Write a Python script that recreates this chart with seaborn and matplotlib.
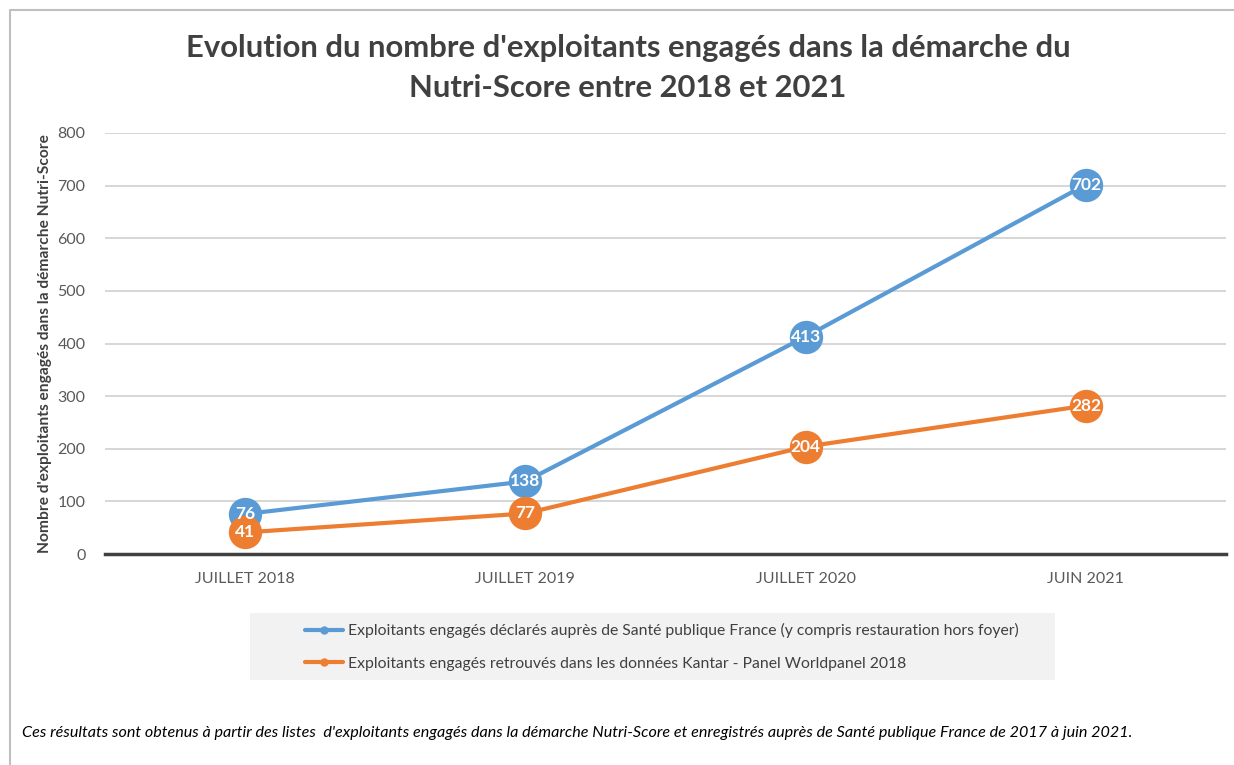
import seaborn as sns
import matplotlib.pyplot as plt
import matplotlib.patches as mpatches
from matplotlib.lines import Line2D
import pandas as pd

# Données
periodes = ["JUILLET 2018", "JUILLET 2019", "JUILLET 2020", "JUIN 2021"]
declares_spf = [76, 138, 413, 702]
kantar = [41, 77, 204, 282]
serie_spf = "Exploitants engagés déclarés auprès de Santé publique France (y compris restauration hors foyer)"
serie_kantar = "Exploitants engagés retrouvés dans les données Kantar - Panel Worldpanel 2018"
y_ticks = [0, 100, 200, 300, 400, 500, 600, 700, 800]

bleu = "#5b9bd5"
orange = "#ed7d31"

df = pd.DataFrame({
    "periode": periodes * 2,
    "valeur": declares_spf + kantar,
    "serie": [serie_spf] * 4 + [serie_kantar] * 4,
})

sns.set_style("white")
plt.rcParams['font.family'] = ['Lato', 'DejaVu Sans']

fig = plt.figure(figsize=(12.34, 7.65), dpi=100)
W, H = 1234, 765
ax = fig.add_axes([105 / W, 1 - 554 / H, (1226 - 105) / W, (554 - 133) / H])

sns.lineplot(data=df, x="periode", y="valeur", hue="serie",
             palette=[bleu, orange], hue_order=[serie_spf, serie_kantar],
             sort=False, linewidth=3, marker="o", markersize=24,
             markeredgewidth=0, legend=False, ax=ax)

# Etiquettes de valeur dans les cercles
for serie, vals in [(serie_spf, declares_spf), (serie_kantar, kantar)]:
    for i, v in enumerate(vals):
        ax.text(i, v, str(v), ha="center", va="center", color="white",
                fontsize=12.5, fontweight="bold")

ax.set_xlim(-0.5, 3.5)
ax.set_ylim(0, 800)
ax.set_yticks(y_ticks)
ax.set_xlabel("")
ax.set_ylabel("Nombre d'exploitants engagés dans la démarche Nutri-Score",
              fontsize=11.2, fontweight="bold", color="#404040", labelpad=4)
ax.grid(axis="y", color="#d0d0d0", linewidth=1.2)
ax.set_axisbelow(True)
for s in ["top", "right", "left"]:
    ax.spines[s].set_visible(False)
ax.spines["bottom"].set_color("#404040")
ax.spines["bottom"].set_linewidth(2.5)
ax.tick_params(axis="both", length=0, labelsize=11.5, labelcolor="#595959")
ax.tick_params(axis="x", pad=13)
ax.tick_params(axis="y", pad=14)

fig.text(0.509, 1 - 48 / H,
         "Evolution du nombre d'exploitants engagés dans la démarche du",
         ha="center", va="center", fontsize=22.3, fontweight="bold", color="#404040")
fig.text(0.509, 1 - 88 / H, "Nutri-Score entre 2018 et 2021",
         ha="center", va="center", fontsize=22.3, fontweight="bold", color="#404040")

# Légende sur fond gris
fig.patches.append(mpatches.Rectangle((250 / W, 1 - 680 / H), 805 / W, 67 / H,
                                      transform=fig.transFigure, facecolor="#f2f2f2",
                                      edgecolor="none", zorder=0))
handles = [Line2D([], [], color=bleu, linewidth=3, marker="o", markersize=5),
           Line2D([], [], color=orange, linewidth=3, marker="o", markersize=5)]
fig.legend(handles, [serie_spf, serie_kantar], loc="center left",
           bbox_to_anchor=(291 / W, 1 - 647 / H), frameon=False, fontsize=11.3,
           handlelength=2.4, handletextpad=0.3, labelspacing=1.2,
           labelcolor="#404040")

fig.text(22 / W, 1 - 733 / H,
         "Ces résultats sont obtenus à partir des listes  d'exploitants engagés dans la démarche Nutri-Score et enregistrés auprès de Santé publique France de 2017 à juin 2021.",
         ha="left", va="center", fontsize=11.6, style="italic", color="black")

# Cadre
fig.add_artist(Line2D([10 / W, 10 / W, 1], [0, 1 - 10 / H, 1 - 10 / H],
                      transform=fig.transFigure, color="#bfbfbf", linewidth=1.5))

fig.savefig("out.png", dpi=100)
